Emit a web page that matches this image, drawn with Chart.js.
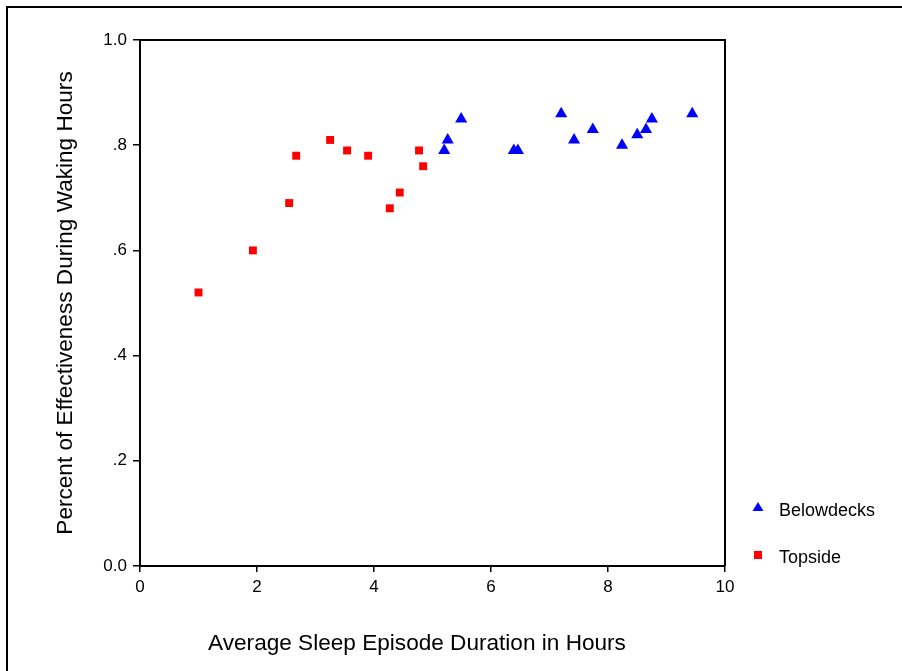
<!DOCTYPE html>
<html>
<head>
<meta charset="utf-8">
<title>Sleep vs effectiveness</title>
<script src="https://cdn.jsdelivr.net/npm/chart.js@4/dist/chart.umd.min.js"></script>
<style>
  html, body { margin: 0; padding: 0; background: #fff; }
  #wrap { width: 902px; height: 671px; }
</style>
</head>
<body>
<div id="wrap"><canvas id="chart" width="902" height="671"></canvas></div>
<script>
// data
const belowHours = [5.20, 5.26, 5.49, 6.39, 6.46, 7.20, 7.42, 7.74, 8.24, 8.50, 8.65, 8.75, 9.44];
const belowEff   = [0.79, 0.81, 0.85, 0.79, 0.79, 0.86, 0.81, 0.83, 0.80, 0.82, 0.83, 0.85, 0.86];
const topHours   = [1.00, 1.93, 2.55, 2.67, 3.25, 3.54, 3.90, 4.27, 4.44, 4.77, 4.84];
const topEff     = [0.52, 0.60, 0.69, 0.78, 0.81, 0.79, 0.78, 0.68, 0.71, 0.79, 0.76];
const seriesNames = ['Belowdecks', 'Topside'];
const xTicks = [0, 2, 4, 6, 8, 10];
const yTickLabels = ['0.0', '.2', '.4', '.6', '.8', '1.0'];

const FONT = "Arial, 'Liberation Sans', sans-serif";
const BLUE = '#0000ff';
const RED = '#ff0000';

const pts = (xs, ys) => xs.map((x, i) => ({ x, y: ys[i] }));

// frame, box edges, x title and the legend
const decorations = {
  id: 'decorations',
  beforeDraw(chart) {
    const c = chart.ctx;
    c.save();
    c.strokeStyle = '#000';
    c.lineWidth = 2;
    c.beginPath();
    c.moveTo(7, 680); c.lineTo(7, 7); c.lineTo(902, 7);
    c.stroke();
    c.restore();
  },
  afterDraw(chart) {
    const c = chart.ctx;
    const a = chart.chartArea;
    c.save();
    c.strokeStyle = '#000';
    c.lineWidth = 2;
    c.beginPath();
    c.moveTo(a.left, a.top); c.lineTo(a.right, a.top); c.lineTo(a.right, a.bottom);
    c.stroke();

    c.fillStyle = '#000';
    c.font = '22.6px ' + FONT;
    c.textAlign = 'center';
    c.textBaseline = 'middle';
    c.fillText('Average Sleep Episode Duration in Hours', 417, 644);

    // legend
    c.font = '18px ' + FONT;
    c.textAlign = 'left';
    c.fillStyle = BLUE;
    c.beginPath();
    c.moveTo(758, 502); c.lineTo(763.5, 511); c.lineTo(752.5, 511); c.closePath();
    c.fill();
    c.fillStyle = RED;
    c.fillRect(754, 551, 8, 8);
    c.fillStyle = '#000';
    c.fillText(seriesNames[0], 779, 511);
    c.fillText(seriesNames[1], 779, 558);
    c.restore();
  }
};

new Chart(document.getElementById('chart'), {
  type: 'scatter',
  data: {
    datasets: [
      { label: seriesNames[0], data: pts(belowHours, belowEff),
        pointStyle: 'triangle', pointRadius: 7, pointHoverRadius: 7,
        backgroundColor: BLUE, borderColor: BLUE, borderWidth: 0 },
      { label: seriesNames[1], data: pts(topHours, topEff),
        pointStyle: 'rect', pointRadius: 5.6, pointHoverRadius: 5.6,
        backgroundColor: RED, borderColor: RED, borderWidth: 0 },
    ]
  },
  options: {
    responsive: false,
    animation: false,
    events: [],
    layout: { padding: { top: 40, right: 177, left: 0, bottom: 0 } },
    plugins: { legend: { display: false }, tooltip: { enabled: false } },
    scales: {
      x: {
        type: 'linear', min: 0, max: 10,
        afterFit: s => { s.height = 105; },
        afterBuildTicks: s => { s.ticks = xTicks.map(v => ({ value: v })); },
        grid: { drawOnChartArea: false, tickLength: 6, color: '#000', lineWidth: 1.5 },
        border: { display: true, color: '#000', width: 2 },
        ticks: { color: '#000', font: { family: FONT, size: 17 }, padding: 5,
                 maxRotation: 0, callback: v => String(v) },
      },
      y: {
        type: 'linear', min: 0, max: 1,
        afterFit: s => { s.width = 140; },
        afterBuildTicks: s => { s.ticks = yTickLabels.map((_, i) => ({ value: i / 5 })); },
        grid: { drawOnChartArea: false, tickLength: 7, color: '#000', lineWidth: 1.5 },
        border: { display: true, color: '#000', width: 2 },
        ticks: { color: '#000', font: { family: FONT, size: 17 }, padding: 6,
                 callback: (v, i) => yTickLabels[i] },
        title: { display: true, text: 'Percent of Effectiveness During Waking Hours',
                 color: '#000', font: { family: FONT, size: 22.6 }, padding: { top: 52 } },
      }
    }
  },
  plugins: [decorations]
});
</script>
</body>
</html>
